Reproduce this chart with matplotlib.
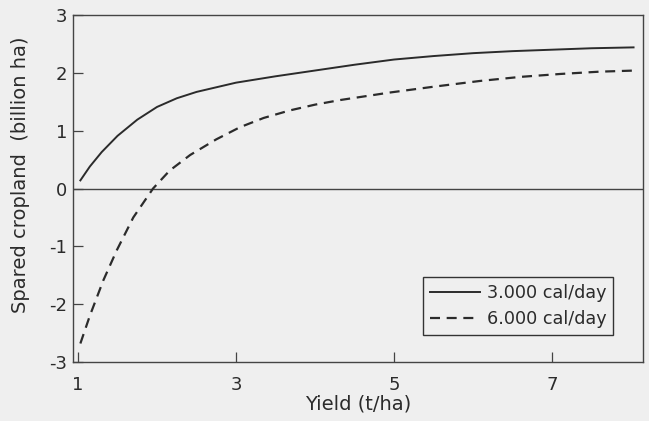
import numpy as np
import matplotlib
matplotlib.use("Agg")
import matplotlib.pyplot as plt

plt.rcParams["axes.unicode_minus"] = False

# values
yield_3000 = [1.03, 1.15, 1.30, 1.50, 1.75, 2.00, 2.25, 2.50, 2.75, 3.00, 3.50, 4.00,
              4.50, 5.00, 5.50, 6.00, 6.50, 7.00, 7.50, 8.03]
spared_3000 = [0.14, 0.38, 0.63, 0.91, 1.19, 1.41, 1.56, 1.67, 1.75, 1.83, 1.94, 2.04,
               2.14, 2.23, 2.29, 2.34, 2.375, 2.40, 2.425, 2.44]

yield_6000 = [1.03, 1.15, 1.32, 1.49, 1.70, 1.95, 2.16, 2.42, 2.75, 3.05, 3.35, 3.68,
              4.00, 4.32, 4.95, 5.50, 6.09, 6.60, 7.10, 7.60, 8.06]
spared_6000 = [-2.68, -2.20, -1.59, -1.07, -0.50, 0.00, 0.31, 0.58, 0.85, 1.06, 1.22, 1.35,
               1.45, 1.53, 1.66, 1.76, 1.86, 1.93, 1.98, 2.02, 2.04]

labels = ["3.000 cal/day", "6.000 cal/day"]
xticks = [1, 3, 5, 7]
yticks = [-3, -2, -1, 0, 1, 2, 3]

bg = "#efefef"
ink = "#2b2b2b"

fig = plt.figure(figsize=(6.49, 4.21), dpi=100, facecolor=bg)
ax = fig.add_axes([0.1125, 0.1401, 0.8783, 0.8243], facecolor=bg)

ax.axhline(0, color="#444444", lw=1.0, zorder=1)
ax.plot(yield_3000, spared_3000, color=ink, lw=1.4, label=labels[0],
        solid_joinstyle="round")
ax.plot(yield_6000, spared_6000, color=ink, lw=1.6, linestyle=(0, (4.5, 3.0)),
        label=labels[1])

ax.set_xlim(0.937, 8.15)
ax.set_ylim(-3, 3)
ax.set_xticks(xticks)
ax.set_yticks(yticks)
ax.tick_params(axis="both", direction="in", length=7, width=0.9, color="#444444",
               labelsize=13, labelcolor=ink)
ax.tick_params(axis="x", pad=10)
ax.tick_params(axis="y", pad=4)
for s in ax.spines.values():
    s.set_color("#444444")
    s.set_linewidth(1.0)

ax.set_ylabel("Spared cropland  (billion ha)", fontsize=14, color=ink)
ax.yaxis.set_label_coords(-0.075, 0.54)
ax.set_xlabel("Yield (t/ha)", fontsize=14, color=ink)
ax.xaxis.set_label_coords(0.5, -0.095)

leg = ax.legend(loc="lower right", bbox_to_anchor=(0.948, 0.078), borderaxespad=0,
                fontsize=12.7, handlelength=2.8, handletextpad=0.4, labelspacing=0.45,
                fancybox=False, framealpha=1, facecolor=bg, edgecolor="#333333",
                borderpad=0.4)
leg.get_frame().set_linewidth(1.0)
for t in leg.get_texts():
    t.set_color(ink)

fig.savefig("out.png", dpi=100, facecolor=bg)
